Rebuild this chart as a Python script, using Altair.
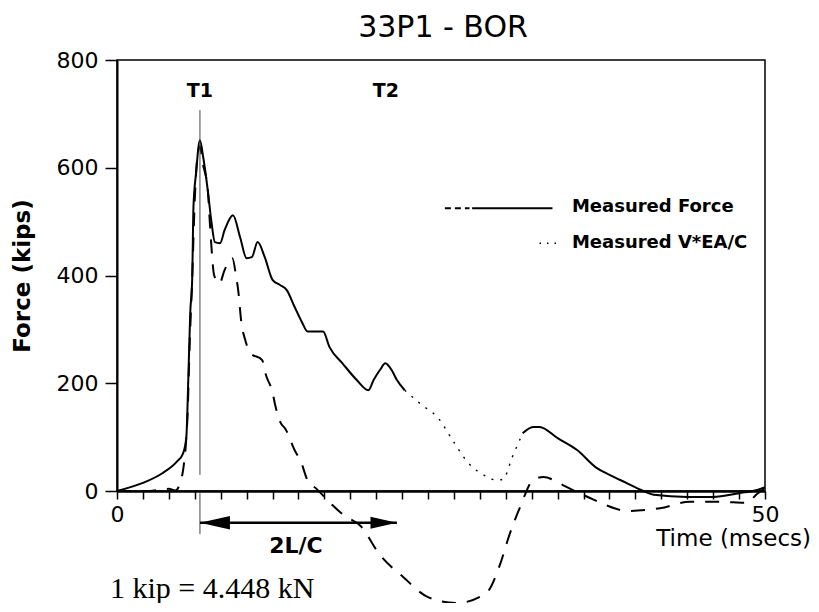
import altair as alt
import pandas as pd

# ---------------- data ----------------
force_t = [0, 2.0, 3.5, 4.6, 5.1, 5.35, 5.5, 5.65, 5.8, 5.9, 6.1, 6.4, 6.65, 7.0, 7.3,
           7.55, 7.95, 8.3, 8.95, 9.5, 10.0, 10.4, 10.85, 11.4, 12.0, 12.6, 13.1, 13.7,
           14.3, 14.7, 15.9, 16.4, 17.4, 18.5, 19.4, 19.8, 20.3, 20.7, 21.2, 21.6, 22.2,
           23.5, 24.8, 25.8, 27.0, 28.6, 29.3, 29.8, 30.5, 31.3, 32.1, 32.6, 34.0, 35.5,
           37.0, 38.0, 39.3, 40.6, 41.4, 44.0, 46.0, 48.0, 49.4, 50.0]
force_f = [0, 15, 33, 54, 70, 100, 206, 330, 392, 527, 590, 651, 620, 559, 497,
           462, 460, 484, 512, 471, 432, 434, 462, 434, 392, 382, 373, 342,
           312, 296, 296, 267, 237, 206, 187, 206, 225, 237, 224, 206, 187,
           160, 135, 98, 55, 26, 20, 22, 63, 107, 119, 119, 98, 76,
           43, 30, 15, 0, -7, -11, -11, -4, 2, 7]

vel_t = [0, 2.5, 3.5, 4.0, 4.5, 4.9, 5.1, 5.3, 5.45, 5.6, 5.8, 6.0, 6.2, 6.4, 6.6,
         7.0, 7.2, 7.5, 7.9, 8.3, 8.9, 9.2, 9.35, 9.6, 9.9, 10.3, 11.2, 11.5, 12.0,
         12.2, 12.6, 13.0, 13.7, 14.2, 14.7, 15.4, 16.7, 17.5, 18.8, 20.3, 22.1,
         24.0, 26.2, 28.5, 29.5, 30.3, 31.1, 32.1, 32.9, 34.4, 35.3, 36.5, 37.5,
         39.4, 41.9, 44.2, 46.5, 48.6, 49.4, 50.0]
vel_f = [0, 0, 3, 4, 1, 17, 39, 82, 145, 267, 392, 540, 620, 640, 610,
         560, 484, 400, 385, 410, 432, 397, 373, 312, 280, 256, 243, 215, 183,
         160, 128, 115, 76, 54, 20, 4, -28, -45, -65, -119, -160,
         -197, -208, -189, -140, -80, -30, 20, 26, 11, 0, -13, -24,
         -37, -32, -20, -20, -22, -5, 5]

y_ticks = [0, 200, 400, 600, 800]
x_ticks = list(range(0, 51, 2))

title_text = "33P1 - BOR"
y_title = "Force (kips)"
x_title = "Time (msecs)"
series_names = ["Measured Force", "Measured V*EA/C"]
marker_names = ["T1", "T2"]
marker_t = [6.4, 20.75]
wave_text = "2L/C"
wave_start, wave_end = 6.4, 21.6
unit_note = "1 kip = 4.448 kN"

FONT = "DejaVu Sans"

# ---------------- tables ----------------
rows = []
for t, f in zip(force_t, force_f):
    if t <= 22.2:
        rows.append({"t": t, "f": f, "seg": "a", "kind": "solid"})
    if 22.2 <= t <= 31.3:
        rows.append({"t": t, "f": f, "seg": "b", "kind": "faint"})
    if t >= 31.3:
        rows.append({"t": t, "f": f, "seg": "c", "kind": "solid"})
force_df = pd.DataFrame(rows)
vel_df = pd.DataFrame({"t": vel_t, "f": vel_f})

xscale = alt.Scale(domain=[0, 50], nice=False, zero=False)
yscale = alt.Scale(domain=[0, 800], nice=False, zero=False)

x_axis = alt.Axis(values=x_ticks, title=None, grid=False,
                  labelExpr="(datum.value == 0 || datum.value == 50) ? datum.label : ''",
                  tickSize=8, tickWidth=1.5, tickColor="black",
                  labelFont=FONT, labelFontSize=22, labelColor="black",
                  labelPadding=5, labelFlush=False,
                  domain=True, domainColor="black", domainWidth=2.5)
y_axis = alt.Axis(values=y_ticks, title=None, grid=False,
                  tickSize=12, tickWidth=1.5, tickColor="black",
                  labelFont=FONT, labelFontSize=22, labelColor="black",
                  labelPadding=7, domain=True, domainColor="black", domainWidth=2)


def XF(field="t"):
    return alt.X(f"{field}:Q", scale=xscale, axis=x_axis)


def YF(field="f"):
    return alt.Y(f"{field}:Q", scale=yscale, axis=y_axis)


force_solid = alt.Chart(force_df).transform_filter("datum.kind == 'solid'").mark_line(
    color="black", strokeWidth=2, interpolate="monotone"
).encode(x=XF(), y=YF(), detail="seg:N", order="t:Q")

force_faint = alt.Chart(force_df).transform_filter("datum.kind == 'faint'").mark_line(
    color="black", strokeWidth=1.4, strokeDash=[2, 7], interpolate="monotone"
).encode(x=XF(), y=YF(), detail="seg:N", order="t:Q")

velocity = alt.Chart(vel_df).mark_line(
    color="black", strokeWidth=2, strokeDash=[14, 11], interpolate="monotone"
).encode(x=XF(), y=YF(), order="t:Q")

# T1 marker line
t1_df = pd.DataFrame({"t": [marker_t[0], marker_t[0]], "f1": [30, -80], "f2": [707, -4]})
t1_line = alt.Chart(t1_df).mark_rule(color="#444444", strokeWidth=1).encode(
    x=XF(), y=YF("f1"), y2="f2:Q")

marker_df = pd.DataFrame({"t": marker_t, "f": [742, 742], "lab": marker_names})
markers = alt.Chart(marker_df).mark_text(
    font=FONT, fontSize=19, fontWeight="bold", color="black", baseline="middle", align="center"
).encode(x=XF(), y=YF(), text="lab:N")

# 2L/C arrow
arrow_df = pd.DataFrame({"t": [wave_start], "t2": [wave_end], "f": [-59]})
shaft = alt.Chart(arrow_df).mark_rule(color="black", strokeWidth=2.5).encode(
    x=XF(), x2="t2:Q", y=YF())
head_l = alt.Chart(arrow_df).mark_point(
    shape="M 0 0 L 2 -0.45 L 2 0.45 Z", size=900, filled=True, color="black", opacity=1
).encode(x=XF(), y=YF())
head_r = alt.Chart(arrow_df).mark_point(
    shape="M 0 0 L -2 -0.45 L -2 0.45 Z", size=700, filled=True, color="black", opacity=1
).encode(x=XF("t2"), y=YF())

# legend drawn inside the plot
leg_dash = alt.Chart(pd.DataFrame({"t": [25.3], "t2": [27.2], "f": [525]})).mark_rule(
    color="black", strokeWidth=2, strokeDash=[6, 4]).encode(x=XF(), x2="t2:Q", y=YF())
leg_solid = alt.Chart(pd.DataFrame({"t": [27.4], "t2": [33.6], "f": [525]})).mark_rule(
    color="black", strokeWidth=2).encode(x=XF(), x2="t2:Q", y=YF())
leg_dots = alt.Chart(pd.DataFrame({"t": [32.6], "t2": [34.3], "f": [460]})).mark_rule(
    color="black", strokeWidth=1.5, strokeDash=[1.5, 6]).encode(x=XF(), x2="t2:Q", y=YF())
leg_text = alt.Chart(pd.DataFrame({"t": [35.1, 35.1], "f": [527, 460], "lab": series_names})).mark_text(
    font=FONT, fontSize=18, fontWeight="bold", color="black", align="left", baseline="middle"
).encode(x=XF(), y=YF(), text="lab:N")


# free text
def free_text(txt, x, y, size, weight="normal", align="center", angle=0, font=FONT):
    return alt.Chart(pd.DataFrame({"lab": [txt]})).mark_text(
        font=font, fontSize=size, fontWeight=weight, color="black",
        align=align, baseline="middle", angle=angle
    ).encode(x=alt.value(x), y=alt.value(y), text="lab:N")


title_mark = free_text(title_text, 326, -32, 30)
ytitle_mark = free_text(y_title, -94, 216, 23, weight="bold", angle=270)
xtitle_mark = free_text(x_title, 694, 479, 23, align="right")
wave_mark = free_text(wave_text, 179, 486, 22, weight="bold")
note_mark = free_text(unit_note, -7, 529, 30, align="left", font="Liberation Serif")

chart = alt.layer(
    force_solid, force_faint, velocity, t1_line, markers, shaft, head_l, head_r,
    leg_dash, leg_solid, leg_dots, leg_text,
    title_mark, ytitle_mark, xtitle_mark, wave_mark, note_mark
).properties(
    width=648, height=431,
    autosize=alt.AutoSizeParams(type="none"),
    padding={"left": 109, "top": 52, "right": 46, "bottom": 112},
).configure(
    background="white"
).configure_view(
    stroke="black", strokeWidth=1.5
)

chart.save("out.html", embed_options={"renderer": "svg", "actions": False})
